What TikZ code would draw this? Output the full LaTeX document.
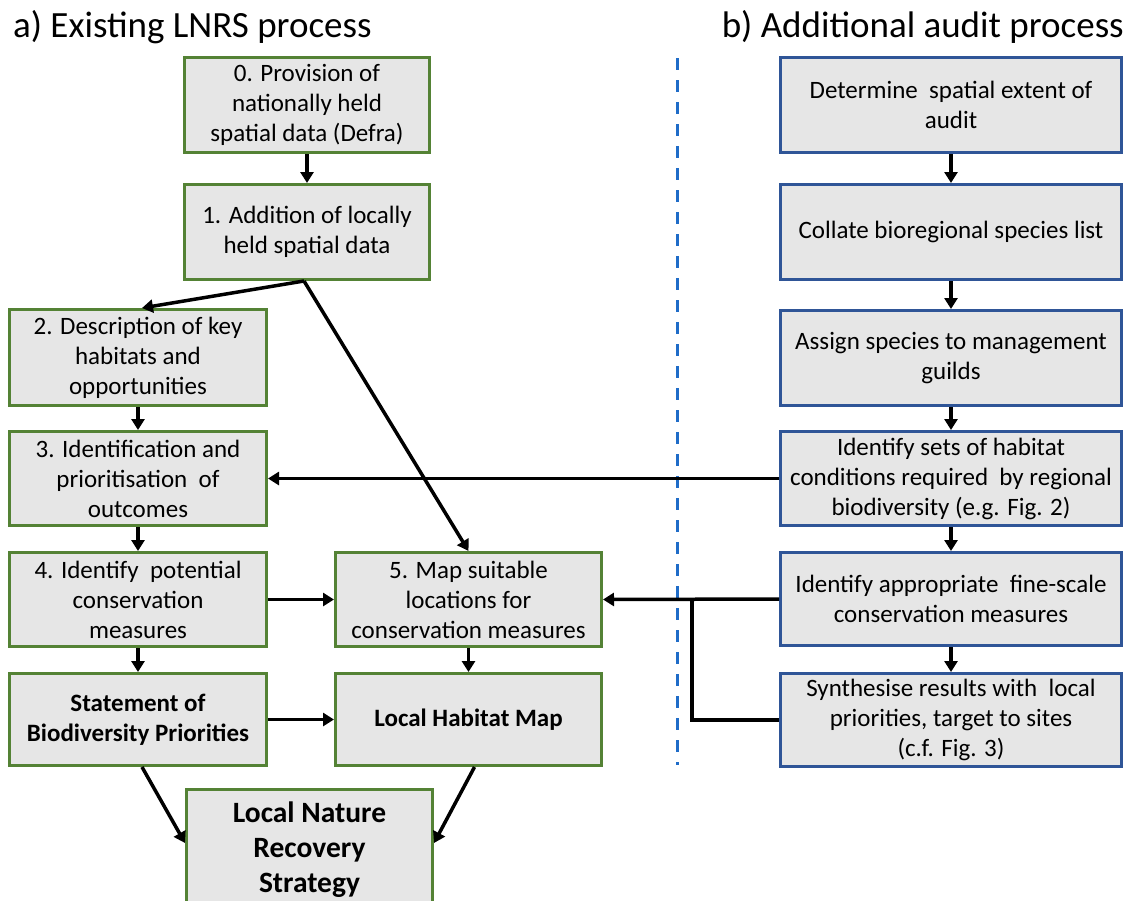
\documentclass[tikz,border=0pt]{standalone}
\usepackage{fontspec}
\setmainfont{Carlito}
\usetikzlibrary{arrows.meta,calc}
\definecolor{boxgreen}{HTML}{548235}
\definecolor{boxblue}{HTML}{2F5597}
\definecolor{boxfill}{HTML}{E6E6E6}
\definecolor{dashblue}{HTML}{1F6CC8}
\begin{document}
\begin{tikzpicture}[x=1pt,y=-1pt,
  base/.style={draw, line width=3pt, fill=boxfill, align=center, inner sep=2pt,
    font=\fontsize{25}{30}\selectfont},
  gbox/.style={base, draw=boxgreen},
  bbox/.style={base, draw=boxblue, minimum width=341pt},
  lw/.style={minimum width=257pt},
  rw/.style={minimum width=266pt},
  link/.style={line width=3.5pt, -{Triangle[length=11pt,width=13pt]}},
  plain/.style={line width=3.5pt},
  title/.style={font=\fontsize{37}{44}\selectfont, inner sep=0pt}
]
\useasboundingbox (0,0) rectangle (1126,900);
\clip (0,0) rectangle (1126,900);

% titles
\node[title, anchor=base west] (ta) at (13,37) {a) Existing LNRS process};
\node[title, anchor=base east] (tb) at (1124,37) {b) Additional audit process};

% divider
\draw[dashblue, line width=3pt, dash pattern=on 12pt off 10pt] (677,58) -- (677,765);

% left column
\node[gbox, minimum width=245pt, minimum height=95pt] (b0) at (307,105)
  {0. Provision of\\nationally held\\spatial data (Defra)};
\node[gbox, minimum width=245pt, minimum height=95pt] (b1) at (307,232)
  {1. Addition of locally\\held spatial data};
\node[gbox, lw, minimum height=96pt] (b2) at (138,357.5)
  {2. Description of key\\habitats and\\opportunities};
\node[gbox, lw, minimum height=94pt] (b3) at (138,478.5)
  {3. Identification and\\prioritisation\ \ of\\outcomes};
\node[gbox, lw, minimum height=94pt] (b4) at (138,599.5)
  {4. Identify\ \ potential\\conservation\\measures};
\node[gbox, rw, minimum height=94pt] (b5) at (468.5,599.5)
  {5. Map suitable\\locations for\\conservation measures};
\node[gbox, lw, minimum height=92pt, font=\bfseries\fontsize{25}{30}\selectfont] (st) at (138,719.5)
  {Statement of\\Biodiversity Priorities};
\node[gbox, rw, minimum height=92pt, font=\bfseries\fontsize{25}{30}\selectfont] (lhm) at (468.5,719.5)
  {Local Habitat Map};
\node[gbox, minimum width=246pt, minimum height=121pt, font=\bfseries\fontsize{29.5}{35}\selectfont] (lnrs) at (309.5,850)
  {Local Nature\\Recovery\\Strategy};

% right column
\node[bbox, minimum height=95pt] (r1) at (951,105)
  {Determine\ \ spatial extent of\\audit};
\node[bbox, minimum height=95pt] (r2) at (951,232)
  {Collate bioregional species list};
\node[bbox, minimum height=95pt] (r3) at (951,358)
  {Assign species to management\\guilds};
\node[bbox, minimum height=94pt] (r4) at (951,478.5)
  {Identify sets of habitat\\conditions required\ \ by regional\\biodiversity (e.g. Fig. 2)};
\node[bbox, minimum height=93pt] (r5) at (951,599)
  {Identify appropriate\ \ fine-scale\\conservation measures};
\node[bbox, minimum height=93pt] (r6) at (951,720)
  {Synthesise results with\ \ local\\priorities, target to sites\\(c.f. Fig. 3)};

% left connectors
\draw[link] (b0) -- (b1);
\draw[link] ([xshift=-3pt]b1.south) -- ([xshift=4pt]b2.north);
\draw[link] ([xshift=-3pt]b1.south) -- (b5.north);
\draw[link] (b2) -- (b3);
\draw[link] (b3) -- (b4);
\draw[link] (b4) -- (st);
\draw[link] (b4) -- (b5);
\draw[link] (b5) -- (lhm);
\draw[link] (st) -- (lhm);
\draw[link] ([xshift=4pt]st.south) -- ([yshift=7pt]lnrs.west);
\draw[link] ([xshift=6pt]lhm.south) -- ([yshift=7pt]lnrs.east);

% right connectors
\draw[link] (r1) -- (r2);
\draw[link] (r2) -- (r3);
\draw[link] (r3) -- (r4);
\draw[link] (r4) -- (r5);
\draw[link] (r5) -- (r6);
\draw[link] (r4.west) -- (b3.east);
\draw[link] (r5.west) -- (b5.east);
\coordinate (jn) at (692,599);
\draw[plain] (r6.west) -| (jn);
\end{tikzpicture}
\end{document}
